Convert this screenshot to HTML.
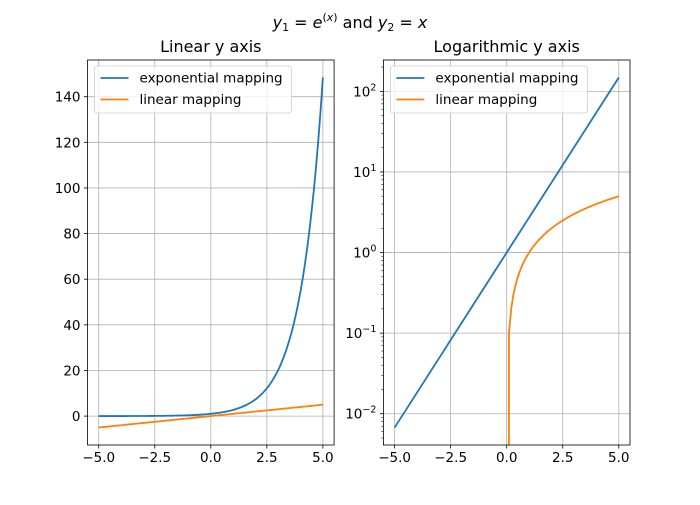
<!DOCTYPE html>
<html><head><meta charset="utf-8"><style>
body{margin:0;background:#fff;}
svg text{font-family:"DejaVu Sans","Liberation Sans",sans-serif;fill:#000;}
</style></head><body>
<svg id="fig" width="700" height="500" xmlns="http://www.w3.org/2000/svg">
<rect width="700" height="500" fill="#fff"/>
<text x="350" y="28" text-anchor="middle" font-size="16"><tspan font-style="italic">y</tspan><tspan font-size="11" dy="3">1</tspan><tspan dy="-3"> = </tspan><tspan font-style="italic">e</tspan><tspan font-size="11" dy="-7">(</tspan><tspan font-size="11" font-style="italic">x</tspan><tspan font-size="11">)</tspan><tspan dy="7"> and </tspan><tspan font-style="italic">y</tspan><tspan font-size="11" dy="3">2</tspan><tspan dy="-3"> = </tspan><tspan font-style="italic">x</tspan></text>
</svg>
<script>
const xTicks=[-5,-2.5,0,2.5,5];
const xTickLabels=["\u22125.0","\u22122.5","0.0","2.5","5.0"];
const linTicks=[0,20,40,60,80,100,120,140];
const logTicks=[-2,-1,0,1,2];
const seriesNames=["exponential mapping","linear mapping"];
const N=101;
const xs=[];for(let i=0;i<N;i++)xs.push(Math.round((-5+10*i/(N-1))*1e9)/1e9);
const ns="http://www.w3.org/2000/svg";
const svg=document.getElementById('fig');
function el(t,a,p){const e=document.createElementNS(ns,t);for(const k in a)e.setAttribute(k,a[k]);(p||svg).appendChild(e);return e;}
const T=60,B=445,H=B-T;
const axesDefs=[{L:87.5,R:334.1,log:false,title:"Linear y axis",name:"linear"},{L:383.4,R:630,log:true,title:"Logarithmic y axis",name:"log"}];
const xmin=-5.5,xmax=5.5;
axesDefs.forEach(ax=>{
  const g=el('g',{});
  
  
  const sx=v=>ax.L+(v-xmin)/(xmax-xmin)*(ax.R-ax.L);
  let sy;
  if(!ax.log){const lo=-12.67,hi=156.08;sy=v=>B-(v-lo)/(hi-lo)*H;}
  else{const lo=-2.388,hi=2.389;sy=v=>B-(Math.log10(v)-lo)/(hi-lo)*H;}
  xTicks.forEach((t,i)=>{const x=sx(t);
    el('line',{x1:x,x2:x,y1:T,y2:B,stroke:'#b0b0b0','stroke-width':0.8},g);
    el('line',{x1:x,x2:x,y1:B,y2:B+3.5,stroke:'#000','stroke-width':0.8},g);
    const tx=el('text',{x:x,y:B+17,'text-anchor':'middle','font-size':'13.5'},g);tx.textContent=xTickLabels[i];
    
    
  });
  if(!ax.log){
    linTicks.forEach(t=>{const y=sy(t);
      el('line',{x1:ax.L,x2:ax.R,y1:y,y2:y,stroke:'#b0b0b0','stroke-width':0.8},g);
      el('line',{x1:ax.L-3.5,x2:ax.L,y1:y,y2:y,stroke:'#000','stroke-width':0.8},g);
      const tx=el('text',{x:ax.L-7,y:y+5,'text-anchor':'end','font-size':'13.5'},g);tx.textContent=t;
      
      
    });
  } else {
    logTicks.forEach(t=>{const y=sy(Math.pow(10,t));
      el('line',{x1:ax.L,x2:ax.R,y1:y,y2:y,stroke:'#b0b0b0','stroke-width':0.8},g);
      el('line',{x1:ax.L-3.5,x2:ax.L,y1:y,y2:y,stroke:'#000','stroke-width':0.8},g);
      const tx=el('text',{x:ax.L-7,y:y+5,'text-anchor':'end','font-size':'13.5'},g);
      tx.innerHTML='10<tspan font-size="9.5" dy="-6">'+(t<0?'\u2212'+(-t):t)+'</tspan>';
      
      
    });
    for(let e=-3;e<=2;e++)for(let m=2;m<=9;m++){const v=m*Math.pow(10,e);const y=sy(v);
      if(y<T||y>B)continue;
      el('line',{x1:ax.L-2,x2:ax.L,y1:y,y2:y,stroke:'#000','stroke-width':0.6},g);}
  }
  const clip=el('clipPath',{id:'c'+ax.name},g);
  el('rect',{x:ax.L,y:T,width:ax.R-ax.L,height:H},clip);
  const expPts=xs.map(x=>sx(x).toFixed(2)+','+sy(Math.exp(x)).toFixed(2));
  let linPts;
  if(!ax.log)linPts=xs.map(x=>sx(x).toFixed(2)+','+sy(x).toFixed(2));
  else{const pos=xs.filter(x=>x>0);linPts=[sx(pos[0]).toFixed(2)+','+(B+50)].concat(pos.map(x=>sx(x).toFixed(2)+','+sy(x).toFixed(2)));}
  const p1=el('polyline',{points:expPts.join(' '),fill:'none',stroke:'#1f77b4','stroke-width':1.8,'clip-path':'url(#c'+ax.name+')'},g);
  
  
  const p2=el('polyline',{points:linPts.join(' '),fill:'none',stroke:'#ff7f0e','stroke-width':1.8,'clip-path':'url(#c'+ax.name+')'},g);
  
  
  el('rect',{x:ax.L,y:T,width:ax.R-ax.L,height:H,fill:'none',stroke:'#000','stroke-width':0.8},g);
  const tt=el('text',{x:(ax.L+ax.R)/2,y:T-8,'text-anchor':'middle','font-size':'16'},g);tt.textContent=ax.title;
  
  
  const lg=el('g',{},g);
  
  
  el('rect',{x:ax.L+7,y:T+6,width:197,height:47,rx:3,fill:'#fff','fill-opacity':0.8,stroke:'#ccc','stroke-width':0.8},lg);
  ['#1f77b4','#ff7f0e'].forEach((c,i)=>{const y=T+18+i*21.5;
    el('line',{x1:ax.L+13,x2:ax.L+41,y1:y,y2:y,stroke:c,'stroke-width':1.8},lg);
    const t=el('text',{x:ax.L+52,y:y+4.5,'font-size':'13.5'},lg);t.textContent=seriesNames[i];
    
    
  });
});
</script>
</body></html>
